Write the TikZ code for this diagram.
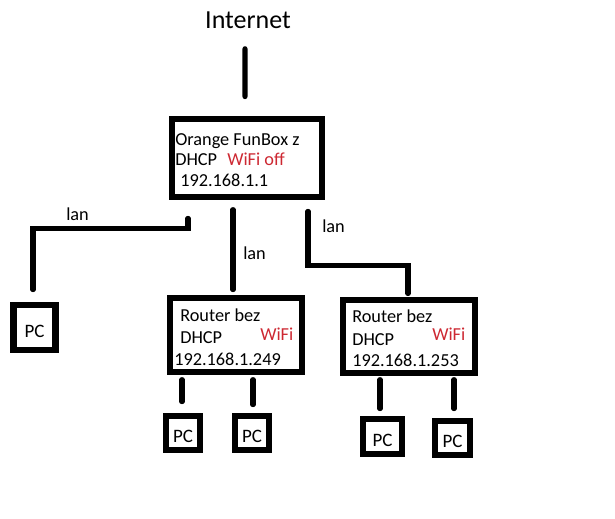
\documentclass[tikz,border=0pt]{standalone}
\usepackage{fontspec}
\setmainfont{Carlito}
\usetikzlibrary{calc}
\definecolor{wifired}{RGB}{205,40,50}
\tikzset{
  wire/.style={line width=3.6pt, line cap=round},
  netbox/.style={draw, line width=4.8pt, inner sep=0pt},
  pcbox/.style={draw, line width=4.8pt, inner sep=0pt, text height=0.5cm,
    font=\fontsize{13.5}{16}\selectfont},
  txt/.style={anchor=base west, inner sep=0pt, font=\fontsize{13}{16}\selectfont},
}
\begin{document}
\begin{tikzpicture}[x=0.025cm,y=-0.025cm]
\useasboundingbox (0,0) rectangle (615,518);
% top
\node[inner sep=0pt, font=\fontsize{18.5}{22}\selectfont] (inet) at (248,20) {Internet};
\node[netbox, minimum width=3.75cm, minimum height=1.95cm] (funbox) at (247,158) {};
\node[txt] (fb1) at (175,145) {Orange FunBox z};
\node[txt] (fb2) at (175,165) {DHCP};
\node[txt, text=wifired] (fb3) at (227,165) {WiFi off};
\node[txt] (fb4) at (180,186) {192.168.1.1};
\draw[wire, shorten <=5mm, shorten >=4.75mm] ([xshift=-0.075cm]inet.south) -- ([xshift=-0.05cm]funbox.north);
% routers
\node[netbox, minimum width=3.3cm, minimum height=1.85cm] (router1) at (236,335) {};
\node[txt] (r1a) at (180,321) {Router bez};
\node[txt] (r1b) at (180,343) {DHCP};
\node[txt, text=wifired] (r1c) at (260,340) {WiFi};
\node[txt] (r1d) at (174,365) {192.168.1.249};
\node[netbox, minimum width=3.3cm, minimum height=1.83cm] (router2) at (409,336.5) {};
\node[txt] (r2a) at (352,322) {Router bez};
\node[txt] (r2b) at (352,345) {DHCP};
\node[txt, text=wifired] (r2c) at (432,340) {WiFi};
\node[txt] (r2d) at (352,366) {192.168.1.253};
% pcs
\node[pcbox, minimum width=1.05cm, minimum height=1.125cm] (pc0) at (34.5,327.5) {PC};
\node[pcbox, minimum size=0.85cm] (pc1) at (183,433) {PC};
\node[pcbox, minimum size=0.85cm] (pc2) at (252,433) {PC};
\node[pcbox, minimum width=0.975cm, minimum height=0.875cm] (pc3) at (382.5,436.5) {PC};
\node[pcbox, minimum width=0.875cm, minimum height=0.85cm] (pc4) at (452.5,438) {PC};
% lan
\draw[wire] ($(funbox.south)+(-59,18)$) |- ($(pc0.north)+(-1.5,-73)$) -- ($(pc0.north)+(-1.5,-12)$);
\node[txt] (lan1) at (66,220) {lan};
\draw[wire] ($(router1.north)+(-3,-85)$) -- ($(router1.north)+(-3,-5)$);
\node[txt] (lan2) at (243,259) {lan};
\draw[wire] ($(funbox.south)+(61,11)$) |- ($(router2.north)+(-1,-31)$) -- ($(router2.north)+(-1,-3)$);
\node[txt] (lan3) at (322,232) {lan};
\draw[wire] ($(pc1.north)+(-1,-33)$) -- ($(pc1.north)+(-1,-11)$);
\draw[wire] ($(pc2.north)+(1,-33)$) -- ($(pc2.north)+(1,-8)$);
\draw[wire] ($(pc3.north)+(-2.5,-36)$) -- ($(pc3.north)+(-2.5,-7)$);
\draw[wire] ($(pc4.north)+(1.5,-38)$) -- ($(pc4.north)+(1.5,-9)$);
\end{tikzpicture}
\end{document}
